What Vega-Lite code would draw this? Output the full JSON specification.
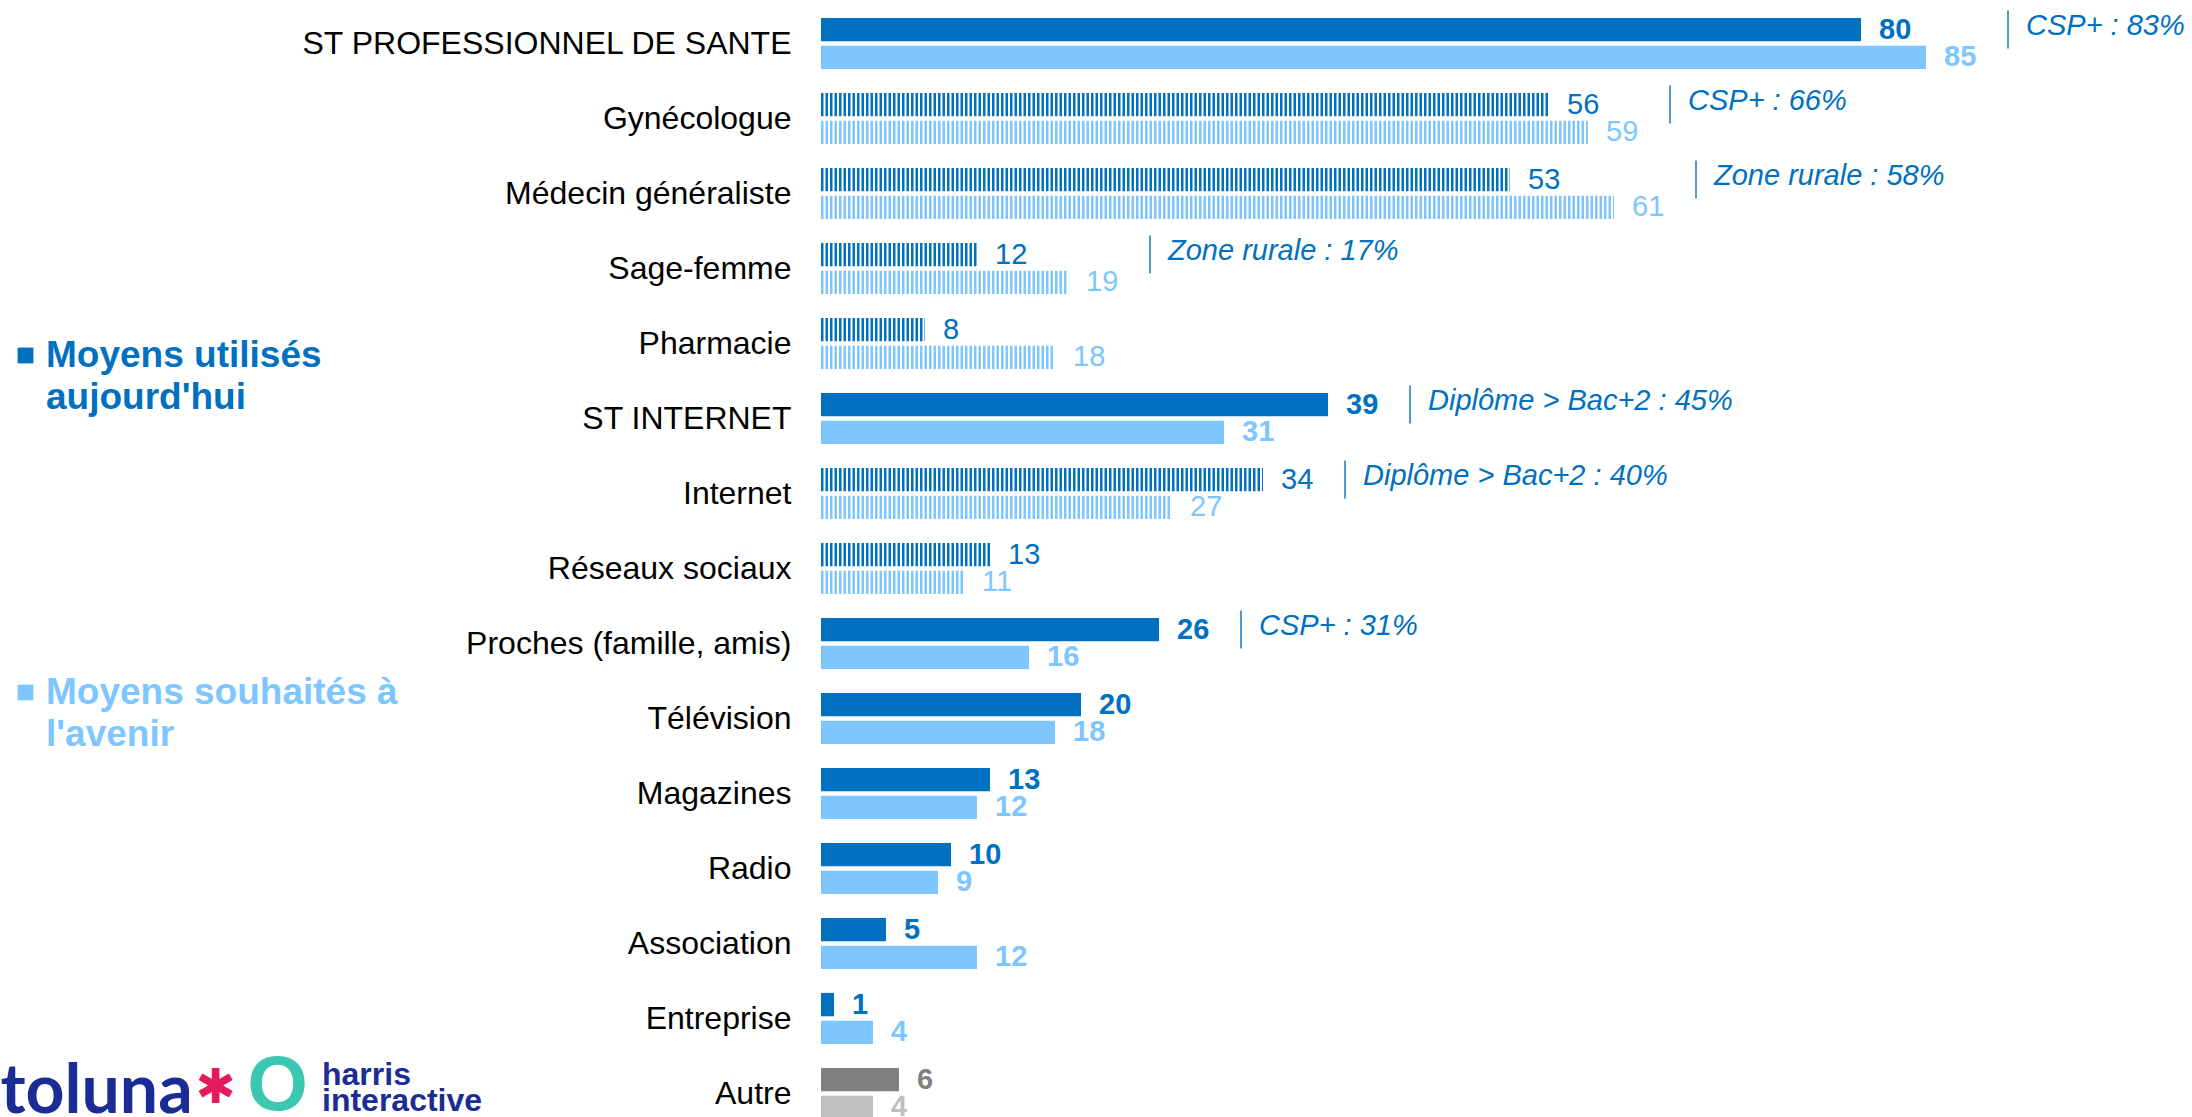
{
  "$schema": "https://vega.github.io/schema/vega-lite/v6.json",
  "width": 1300,
  "height": 1125,
  "autosize": {"type": "none"},
  "padding": {"left": 821, "right": 71, "top": 6, "bottom": -14},
  "background": "white",
  "config": {
    "view": {"stroke": null},
    "font": "Liberation Sans",
    "style": {"guide-label": {"lineHeight": 42}}
  },
  "title": {
    "text": ["harris", "interactive"],
    "anchor": "start",
    "frame": "group",
    "orient": "top",
    "offset": 0,
    "baseline": "top",
    "dx": -499,
    "dy": 1112,
    "font": "Liberation Sans",
    "fontSize": 32,
    "fontWeight": "bold",
    "lineHeight": 26,
    "color": "#1B2C94"
  },
  "data": {
    "values": [
      {"cat": "ST PROFESSIONNEL DE SANTE", "serie": "utilisés", "value": 80, "sous_item": 0, "note": "CSP+ : 83%"},
      {"cat": "ST PROFESSIONNEL DE SANTE", "serie": "souhaités", "value": 85, "sous_item": 0},
      {"cat": "Gynécologue", "serie": "utilisés", "value": 56, "sous_item": 1, "note": "CSP+ : 66%"},
      {"cat": "Gynécologue", "serie": "souhaités", "value": 59, "sous_item": 1},
      {"cat": "Médecin généraliste", "serie": "utilisés", "value": 53, "sous_item": 1, "note": "Zone rurale : 58%"},
      {"cat": "Médecin généraliste", "serie": "souhaités", "value": 61, "sous_item": 1},
      {"cat": "Sage-femme", "serie": "utilisés", "value": 12, "sous_item": 1, "note": "Zone rurale : 17%"},
      {"cat": "Sage-femme", "serie": "souhaités", "value": 19, "sous_item": 1},
      {"cat": "Pharmacie", "serie": "utilisés", "value": 8, "sous_item": 1},
      {"cat": "Pharmacie", "serie": "souhaités", "value": 18, "sous_item": 1},
      {"cat": "ST INTERNET", "serie": "utilisés", "value": 39, "sous_item": 0, "note": "Diplôme > Bac+2 : 45%"},
      {"cat": "ST INTERNET", "serie": "souhaités", "value": 31, "sous_item": 0},
      {"cat": "Internet", "serie": "utilisés", "value": 34, "sous_item": 1, "note": "Diplôme > Bac+2 : 40%"},
      {"cat": "Internet", "serie": "souhaités", "value": 27, "sous_item": 1},
      {"cat": "Réseaux sociaux", "serie": "utilisés", "value": 13, "sous_item": 1},
      {"cat": "Réseaux sociaux", "serie": "souhaités", "value": 11, "sous_item": 1},
      {"cat": "Proches (famille, amis)", "serie": "utilisés", "value": 26, "sous_item": 0, "note": "CSP+ : 31%"},
      {"cat": "Proches (famille, amis)", "serie": "souhaités", "value": 16, "sous_item": 0},
      {"cat": "Télévision", "serie": "utilisés", "value": 20, "sous_item": 0},
      {"cat": "Télévision", "serie": "souhaités", "value": 18, "sous_item": 0},
      {"cat": "Magazines", "serie": "utilisés", "value": 13, "sous_item": 0},
      {"cat": "Magazines", "serie": "souhaités", "value": 12, "sous_item": 0},
      {"cat": "Radio", "serie": "utilisés", "value": 10, "sous_item": 0},
      {"cat": "Radio", "serie": "souhaités", "value": 9, "sous_item": 0},
      {"cat": "Association", "serie": "utilisés", "value": 5, "sous_item": 0},
      {"cat": "Association", "serie": "souhaités", "value": 12, "sous_item": 0},
      {"cat": "Entreprise", "serie": "utilisés", "value": 1, "sous_item": 0},
      {"cat": "Entreprise", "serie": "souhaités", "value": 4, "sous_item": 0},
      {"cat": "Autre", "serie": "utilisés", "value": 6, "sous_item": 0},
      {"cat": "Autre", "serie": "souhaités", "value": 4, "sous_item": 0}
    ]
  },
  "encoding": {
    "y": {
      "field": "cat",
      "type": "nominal",
      "scale": {
        "domain": ["ST PROFESSIONNEL DE SANTE", "Gynécologue", "Médecin généraliste", "Sage-femme", "Pharmacie", "ST INTERNET", "Internet", "Réseaux sociaux", "Proches (famille, amis)", "Télévision", "Magazines", "Radio", "Association", "Entreprise", "Autre"],
        "paddingInner": 0,
        "paddingOuter": 0
      },
      "axis": {
        "ticks": false,
        "domain": false,
        "grid": false,
        "labelFont": "Liberation Sans",
        "labelFontSize": 32,
        "labelColor": "#000000",
        "labelPadding": 30,
        "labelLimit": 800,
        "title": "O",
        "titleAngle": 0,
        "titleX": -544,
        "titleY": 1080,
        "titleAlign": "center",
        "titleBaseline": "middle",
        "titleFont": "Liberation Sans",
        "titleFontSize": 78,
        "titleFontWeight": "bold",
        "titleColor": "#3CC8B0"
      }
    },
    "yOffset": {
      "field": "serie",
      "type": "nominal",
      "scale": {"domain": ["utilisés", "souhaités"], "paddingInner": 0.158, "paddingOuter": 0.428}
    },
    "x": {
      "field": "value",
      "type": "quantitative",
      "scale": {"domain": [0, 100]},
      "axis": {
        "orient": "top",
        "values": [0],
        "labels": true,
        "labelExpr": "'✱'",
        "labelFont": "DejaVu Sans",
        "labelFontSize": 48,
        "labelColor": "#E5195E",
        "labelAlign": "center",
        "labelBaseline": "middle",
        "labelOffset": -606,
        "labelPadding": -1082,
        "labelFlush": false,
        "labelBound": false,
        "labelOverlap": false,
        "ticks": false,
        "domain": false,
        "grid": false,
        "title": "toluna",
        "titleX": -821,
        "titleY": 1106,
        "titleAlign": "left",
        "titleAnchor": "start",
        "titleBaseline": "alphabetic",
        "titleFont": "Lato",
        "titleFontSize": 68,
        "titleFontWeight": "bold",
        "titleColor": "#1B2C94"
      }
    }
  },
  "layer": [
    {
      "transform": [{"filter": "datum.sous_item === 0 && datum.serie === 'utilisés'"}],
      "mark": {"type": "bar"},
      "encoding": {
        "color": {
          "condition": {"test": "datum.cat === 'Autre'", "value": "#808080"},
          "field": "serie",
          "type": "nominal",
          "scale": {"domain": ["utilisés"], "range": ["#0070C0"]},
          "legend": {
            "orient": "none",
            "legendX": -814,
            "legendY": 331,
            "title": null,
            "padding": 0,
            "symbolType": "square",
            "symbolSize": 250,
            "symbolStrokeWidth": 0,
            "labelOffset": 2,
            "labelFont": "Liberation Sans",
            "labelFontSize": 37,
            "labelFontWeight": "bold",
            "labelColor": "#0070C0",
            "labelLimit": 700,
            "labelExpr": "['Moyens utilisés', \"aujourd'hui\"]"
          }
        }
      }
    },
    {
      "transform": [{"filter": "datum.sous_item === 0 && datum.serie === 'souhaités'"}],
      "mark": {"type": "bar"},
      "encoding": {
        "color": {
          "condition": {"test": "datum.cat === 'Autre'", "value": "#BFBFBF"},
          "field": "serie",
          "type": "nominal",
          "scale": {"domain": ["souhaités"], "range": ["#7DC6FF"]},
          "legend": {
            "orient": "none",
            "legendX": -814,
            "legendY": 668,
            "title": null,
            "padding": 0,
            "symbolType": "square",
            "symbolSize": 250,
            "symbolStrokeWidth": 0,
            "labelOffset": 2,
            "labelFont": "Liberation Sans",
            "labelFontSize": 37,
            "labelFontWeight": "bold",
            "labelColor": "#7DC6FF",
            "labelLimit": 700,
            "labelExpr": "['Moyens souhaités à', \"l'avenir\"]"
          }
        }
      }
    },
    {
      "transform": [{"filter": "datum.sous_item === 1"}],
      "mark": {"type": "rule", "strokeWidth": 23.4, "strokeDash": [2.5, 2], "strokeCap": "butt"},
      "encoding": {
        "x": {"datum": 0, "type": "quantitative"},
        "x2": {"field": "value"},
        "color": {
          "condition": {"test": "datum.serie === 'utilisés'", "value": "#0070C0"},
          "value": "#7DC6FF"
        }
      }
    },
    {
      "transform": [{"filter": "datum.sous_item === 0"}],
      "mark": {"type": "text", "align": "left", "baseline": "middle", "dx": 18, "fontSize": 29, "fontWeight": "bold", "font": "Liberation Sans"},
      "encoding": {
        "text": {"field": "value", "type": "quantitative"},
        "color": {
          "condition": [
            {"test": "datum.cat === 'Autre' && datum.serie === 'utilisés'", "value": "#808080"},
            {"test": "datum.cat === 'Autre'", "value": "#BFBFBF"},
            {"test": "datum.serie === 'utilisés'", "value": "#0070C0"}
          ],
          "value": "#7DC6FF"
        }
      }
    },
    {
      "transform": [{"filter": "datum.sous_item === 1"}],
      "mark": {"type": "text", "align": "left", "baseline": "middle", "dx": 18, "fontSize": 29, "fontWeight": "normal", "font": "Liberation Sans"},
      "encoding": {
        "text": {"field": "value", "type": "quantitative"},
        "color": {
          "condition": {"test": "datum.serie === 'utilisés'", "value": "#0070C0"},
          "value": "#7DC6FF"
        }
      }
    },
    {
      "transform": [
        {"joinaggregate": [{"op": "max", "field": "value", "as": "vmax"}], "groupby": ["cat"]},
        {"filter": "isValid(datum.note)"}
      ],
      "mark": {"type": "tick", "orient": "vertical", "size": 38, "thickness": 2, "color": "#0070C0", "xOffset": 82},
      "encoding": {
        "x": {"field": "vmax", "type": "quantitative"}
      }
    },
    {
      "transform": [
        {"joinaggregate": [{"op": "max", "field": "value", "as": "vmax"}], "groupby": ["cat"]},
        {"filter": "isValid(datum.note)"}
      ],
      "mark": {"type": "text", "align": "left", "baseline": "middle", "dx": 100, "dy": -4, "fontSize": 29, "fontStyle": "italic", "font": "Liberation Sans", "color": "#0070C0"},
      "encoding": {
        "x": {"field": "vmax", "type": "quantitative"},
        "text": {"field": "note", "type": "nominal"}
      }
    }
  ],
  "resolve": {"scale": {"color": "independent"}, "legend": {"color": "independent"}}
}
